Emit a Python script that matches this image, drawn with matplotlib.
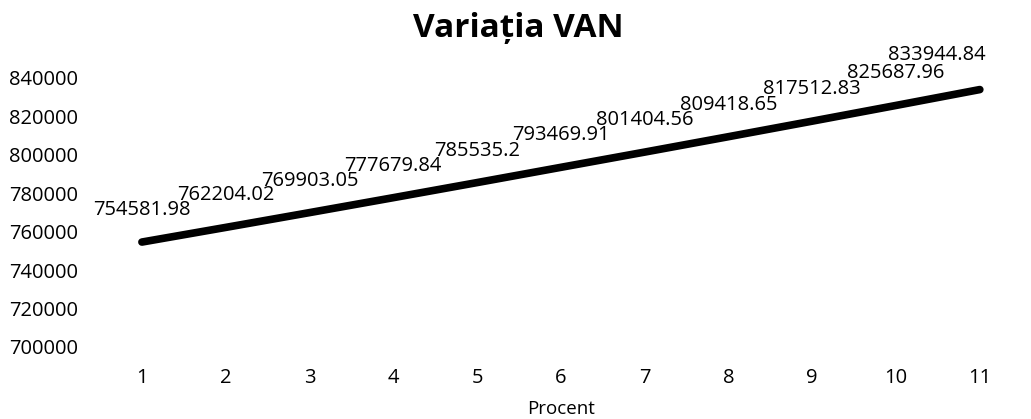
import numpy as np
from matplotlib import pyplot as plt

plt.rcParams['font.family'] = ['Open Sans', 'DejaVu Sans']

procent = [1, 2, 3, 4, 5, 6, 7, 8, 9, 10, 11]
van = [754581.98, 762204.02, 769903.05, 777679.84, 785535.2, 793469.91,
       801404.56, 809418.65, 817512.83, 825687.96, 833944.84]
etichete = ['754581.98', '762204.02', '769903.05', '777679.84', '785535.2', '793469.91',
            '801404.56', '809418.65', '817512.83', '825687.96', '833944.84']

fig = plt.figure(figsize=(10.31, 4.19), dpi=100)
ax = fig.add_axes([0.097, 0.172, 0.894, 0.642])

ax.plot(procent, van, color='black', linewidth=5.5, solid_capstyle='round')

for i in range(len(procent)):
    dx, dy = 0, 23
    if i == len(procent) - 1:
        dx, dy = -31, 25  # eticheta ultima ramane in grafic
    ax.annotate(etichete[i], (procent[i], van[i]), xytext=(dx, dy),
                textcoords='offset points', ha='center', va='center', fontsize=14.5)

ax.set_xlim(0.5, 11.5)
ax.set_ylim(700000, 840000)
ax.set_xticks(procent)
ax.set_yticks(np.arange(700000, 840001, 20000))
ax.tick_params(axis='both', length=0, labelsize=14.5)
ax.tick_params(axis='x', pad=15)
ax.tick_params(axis='y', pad=16)
for s in ax.spines.values():
    s.set_visible(False)

ax.set_xlabel('Procent', fontsize=13.5, labelpad=9)
fig.text(0.503, 1 - 29 / 419, 'Variația VAN', ha='center', va='center',
         fontsize=24, fontweight='bold')

plt.savefig('out.png', dpi=100)
